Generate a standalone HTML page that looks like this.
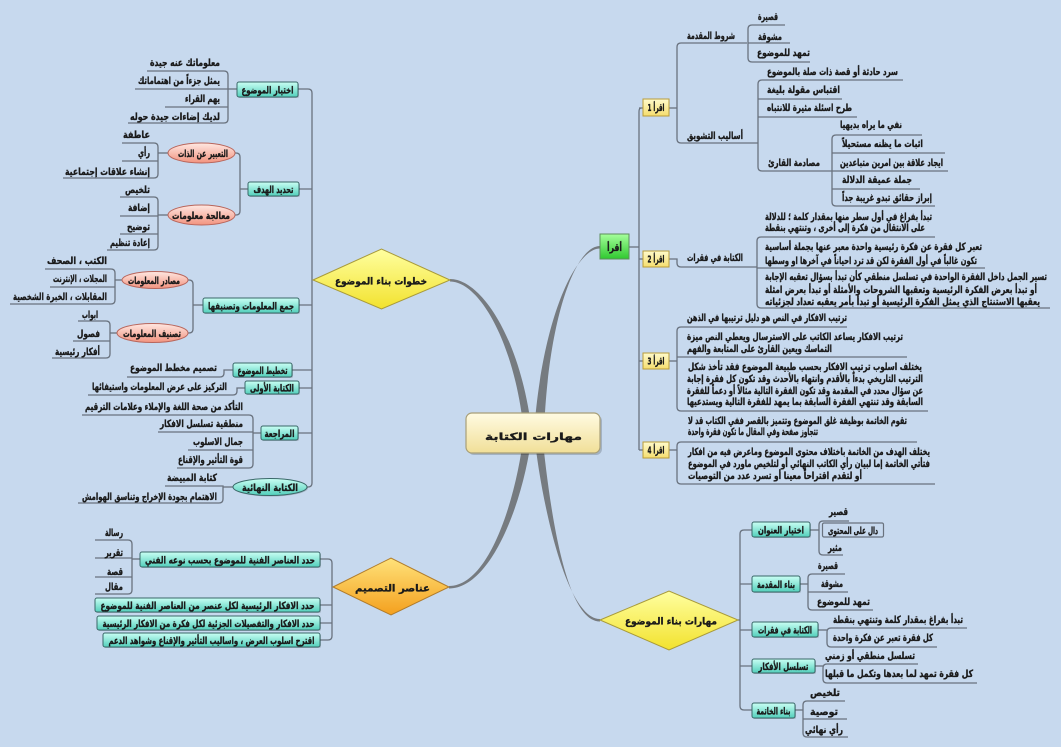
<!DOCTYPE html>
<html><head><meta charset="utf-8">
<style>
html,body{margin:0;padding:0;background:#c7d9ee;}
svg{display:block}
svg text{font-family:"DejaVu Sans","Liberation Sans",sans-serif;font-weight:bold;fill:#1a1a1a;stroke:#1a1a1a;stroke-width:.35px;font-size:10px;text-anchor:middle}
.c{fill:none;stroke:#69727e;stroke-width:1.3}
.tb{fill:url(#gTeal);stroke:#3a6868;stroke-width:1}
.yb{fill:url(#gYel);stroke:#b89c3a;stroke-width:1}
.pk{fill:url(#gPink);stroke:#b8665c;stroke-width:1}
.sh{fill:#000;opacity:.18}
</style></head><body>
<svg width="1061" height="747" viewBox="0 0 1061 747" xmlns="http://www.w3.org/2000/svg">
<defs>
<linearGradient id="gCenter" x1="0" y1="0" x2="0" y2="1"><stop offset="0" stop-color="#fffbe2"/><stop offset="1" stop-color="#f1df98"/></linearGradient>
<linearGradient id="gGreen" x1="0" y1="0" x2="0" y2="1"><stop offset="0" stop-color="#a6ff9c"/><stop offset="1" stop-color="#2fc82f"/></linearGradient>
<linearGradient id="gYel" x1="0" y1="0" x2="0" y2="1"><stop offset="0" stop-color="#fffbcc"/><stop offset="1" stop-color="#f5dd6e"/></linearGradient>
<linearGradient id="gDia" x1="0" y1="0" x2="0" y2="1"><stop offset="0" stop-color="#ffffa0"/><stop offset="1" stop-color="#f2e22e"/></linearGradient>
<linearGradient id="gOr" x1="0" y1="0" x2="0" y2="1"><stop offset="0" stop-color="#ffe27a"/><stop offset="1" stop-color="#f4a01e"/></linearGradient>
<linearGradient id="gTeal" x1="0" y1="0" x2="0" y2="1"><stop offset="0" stop-color="#cafff4"/><stop offset="1" stop-color="#52cfbb"/></linearGradient>
<linearGradient id="gPink" x1="0" y1="0" x2="0" y2="1"><stop offset="0" stop-color="#ffe8e2"/><stop offset="1" stop-color="#f2937f"/></linearGradient>
</defs>

<!-- main curves -->
<g fill="#767b80">
<path d="M600,246 C575,246 548,320 544,433 L534,433 C542,320 575,248.5 600,248.5 Z"/>
<path d="M450,279 C481,279 521,338 532,433 L524,433 C515,342 479,281.5 450,281.5 Z"/>
<path d="M449,586 C489,586 516,500 524,433 L532,433 C524,502 491,588.5 449,588.5 Z"/>
<path d="M600,619 C566,619 541,500 534,433 L542,433 C549,500 564,621.5 600,621.5 Z"/>
</g>

<!-- ===== RIGHT TOP CONNECTORS ===== -->
<g class="c">
<path d="M629,247 H639"/>
<path d="M641,108 Q639,108 639,112 V450"/>
<path d="M639,108 H643 M639,259 H643 M639,361 H643 M639,450 H643"/>
<path d="M669,108 H677"/>
<path d="M747,43 H681 Q677,43 677,47 V139 Q677,143 681,143 H758"/>
<path d="M785,25 H752 Q748,25 748,29 V58 Q748,62 752,62 H810"/>
<path d="M748,43 H790"/>
<path d="M903,80 H762 Q758,80 758,84 V167 Q758,171 762,171 H832"/>
<path d="M758,99 H842 M758,117 H857"/>
<path d="M922,135 H836 Q832,135 832,139 V202 Q832,206 836,206 H935"/>
<path d="M832,153 H945 M832,171 H948 M832,189 H920"/>
<path d="M669,259 H677 V263 Q677,267 681,267 H757"/>
<path d="M935,237 H761 Q757,237 757,241 V304 Q757,308 761,308 H1050"/>
<path d="M757,268 H985"/>
<path d="M669,361 H677"/>
<path d="M847,327 H681 Q677,327 677,331 V407 Q677,411 681,411 H928"/>
<path d="M677,357 H907"/>
<path d="M669,450 H677"/>
<path d="M917,442 H681 Q677,442 677,446 V480 Q677,484 681,484 H935"/>
</g>

<!-- ===== RIGHT BOTTOM CONNECTORS ===== -->
<g class="c">
<path d="M738,620 H740"/>
<path d="M752,530 H744 Q740,530 740,534 V706 Q740,710 744,710 H752"/>
<path d="M740,584 H752 M740,630 H752 M740,666 H752"/>
<path d="M810,530 H819"/>
<path d="M849,521 H823 Q819,521 819,525 V551 Q819,555 823,555 H843"/>
<path d="M800,584 H808"/>
<path d="M845,574 H812 Q808,574 808,578 V606 Q808,610 812,610 H873"/>
<path d="M808,592 H848"/>
<path d="M818,630 H827"/>
<path d="M967,628 H831 Q827,628 827,632 V643 Q827,647 831,647 H937"/>
<path d="M815,666 H823"/>
<path d="M918,664 H827 Q823,664 823,668 V679 Q823,683 827,683 H977"/>
<path d="M795,710 H803"/>
<path d="M845,701 H807 Q803,701 803,705 V733 Q803,737 807,737 H848"/>
<path d="M803,719 H847"/>
</g>
<rect x="822.5" y="523" width="61" height="14" rx="1.5" fill="none" stroke="#69727e" stroke-width="1.2"/>

<!-- ===== LEFT CONNECTORS ===== -->
<g class="c">
<path d="M298,89 H308 Q312,89 312,93 V483 Q312,487 308,487 H307"/>
<path d="M299,189 H312 M299,305 H312 M292,370 H312 M299,388 H312 M298,433 H312"/>
<path d="M237,89 H228"/>
<path d="M147,71 H224 Q228,71 228,75 V119 Q228,123 224,123 H128"/>
<path d="M228,89 H135 M228,107 H165"/>
<path d="M248,189 H240"/>
<path d="M235,153 H236 Q240,153 240,157 V211 Q240,215 236,215 H235"/>
<path d="M168,153 H158"/>
<path d="M122,143 H154 Q158,143 158,147 V174 Q158,178 154,178 H63"/>
<path d="M158,161 H122"/>
<path d="M168,215 H158"/>
<path d="M120,197 H154 Q158,197 158,201 V246 Q158,250 154,250 H107"/>
<path d="M158,216 H120 M158,234 H120"/>
<path d="M203,305 H193"/>
<path d="M188,280 H189 Q193,280 193,284 V329 Q193,333 189,333 H188"/>
<path d="M122,280 H115"/>
<path d="M45,269 H111 Q115,269 115,273 V300 Q115,304 111,304 H10"/>
<path d="M115,287 H50"/>
<path d="M117,333 H110"/>
<path d="M78,321 H106 Q110,321 110,325 V354 Q110,358 106,358 H52"/>
<path d="M110,341 H73"/>
<path d="M233,370 H224 V373 Q224,377 220,377 H127"/>
<path d="M245,388 H237 V391 Q237,395 233,395 H88"/>
<path d="M261,433 H253"/>
<path d="M82,415 H249 Q253,415 253,419 V464 Q253,468 249,468 H177"/>
<path d="M253,432 H158 M253,450 H188"/>
<path d="M233,487 H223"/>
<path d="M165,486 H223 V499 Q223,503 219,503 H78"/>
<path d="M320,559 H328 Q332,559 332,563 V636 Q332,640 328,640 H320"/>
<path d="M320,605 H332 M320,623 H332"/>
<path d="M140,559 H132"/>
<path d="M95,540 H128 Q132,540 132,544 V590 Q132,594 128,594 H95"/>
<path d="M132,558 H95 M132,577 H95"/>
</g>

<!-- ===== NODES ===== -->
<rect x="468" y="415" width="134" height="40" rx="6" class="sh"/>
<rect x="466" y="413" width="134" height="40" rx="6" fill="url(#gCenter)" stroke="#a89f78" stroke-width="1.2"/>
<text x="533.5" y="440" font-size="19" textLength="97" lengthAdjust="spacingAndGlyphs">مهارات الكتابة</text>

<rect x="600" y="234" width="29" height="25" fill="url(#gGreen)" stroke="#5c8f5c" stroke-width="1"/>
<text x="614.5" y="251" font-size="11" textLength="15" lengthAdjust="spacingAndGlyphs">أقرأ</text>

<rect x="643" y="99" width="26" height="17" class="yb"/>
<text x="656" y="111" font-size="8.5" textLength="17" lengthAdjust="spacingAndGlyphs">اقرأ 1</text>
<rect x="643" y="251" width="26" height="16" class="yb"/>
<text x="656" y="262.5" font-size="8.5" textLength="17" lengthAdjust="spacingAndGlyphs">اقرأ 2</text>
<rect x="643" y="353" width="26" height="16" class="yb"/>
<text x="656" y="364.5" font-size="8.5" textLength="17" lengthAdjust="spacingAndGlyphs">اقرأ 3</text>
<rect x="643" y="442" width="26" height="16" class="yb"/>
<text x="656" y="453.5" font-size="8.5" textLength="17" lengthAdjust="spacingAndGlyphs">اقرأ 4</text>

<polygon points="313,280 381.5,249 450,280 381.5,309" fill="url(#gDia)" stroke="#a89a3a" stroke-width="1"/>
<text x="381" y="284.5" font-size="12.5" textLength="92" lengthAdjust="spacingAndGlyphs">خطوات بناء الموضوع</text>
<polygon points="600,620 669,591 738,620 669,650" fill="url(#gDia)" stroke="#a89a3a" stroke-width="1"/>
<text x="671" y="624.5" font-size="12.5" textLength="92" lengthAdjust="spacingAndGlyphs">مهارات بناء الموضوع</text>
<polygon points="333,587 391,558 449,587 391,615" fill="url(#gOr)" stroke="#b07c2c" stroke-width="1"/>
<text x="392.5" y="591.5" font-size="12.5" textLength="75" lengthAdjust="spacingAndGlyphs">عناصر التصميم</text>

<g>
<text x="711" y="39" textLength="48" lengthAdjust="spacingAndGlyphs">شروط المقدمة</text>
<text x="768" y="20" textLength="20" lengthAdjust="spacingAndGlyphs">قصيرة</text>
<text x="770" y="40" textLength="24" lengthAdjust="spacingAndGlyphs">مشوقة</text>
<text x="783.5" y="56" textLength="53" lengthAdjust="spacingAndGlyphs">تمهد للموضوع</text>
<text x="715" y="139" textLength="56" lengthAdjust="spacingAndGlyphs">أساليب التشويق</text>
<text x="832.5" y="75" textLength="131" lengthAdjust="spacingAndGlyphs">سرد حادثة أو قصة ذات صلة بالموضوع</text>
<text x="803.5" y="93" textLength="73" lengthAdjust="spacingAndGlyphs">اقتباس مقولة بليغة</text>
<text x="809.5" y="111" textLength="85" lengthAdjust="spacingAndGlyphs">طرح اسئلة مثيرة للانتباه</text>
<text x="794" y="166" textLength="52" lengthAdjust="spacingAndGlyphs">مصادمة القارئ</text>
<text x="871" y="128" textLength="62" lengthAdjust="spacingAndGlyphs">نفي ما يراه بديهيا</text>
<text x="882.5" y="147" textLength="81" lengthAdjust="spacingAndGlyphs">اثبات ما يظنه مستحيلاً</text>
<text x="891.5" y="166" textLength="103" lengthAdjust="spacingAndGlyphs">ايجاد علاقة بين امرين متباعدين</text>
<text x="877" y="183" textLength="70" lengthAdjust="spacingAndGlyphs">جملة عميقة الدلالة</text>
<text x="887" y="201" textLength="90" lengthAdjust="spacingAndGlyphs">إبراز حقائق تبدو غريبة جداً</text>

<text x="715" y="261" textLength="56" lengthAdjust="spacingAndGlyphs">الكتابة في فقرات</text>
<text x="848.5" y="220" textLength="167" lengthAdjust="spacingAndGlyphs">تبدأ بفراغ في أول سطر منها بمقدار كلمة ؛ للدلالة</text>
<text x="845" y="231" textLength="160" lengthAdjust="spacingAndGlyphs">على الانتقال من فكرة إلى أخرى ، وتنتهي بنقطة</text>
<text x="873.5" y="250" textLength="217" lengthAdjust="spacingAndGlyphs">تعبر كل فقرة عن فكرة رئيسية واحدة معبر عنها بجملة أساسية</text>
<text x="871" y="264" textLength="212" lengthAdjust="spacingAndGlyphs">تكون غالباً في أول الفقرة لكن قد ترد احياناً في آخرها او وسطها</text>
<text x="906" y="280" textLength="282" lengthAdjust="spacingAndGlyphs">تسير الجمل داخل الفقرة الواحدة في تسلسل منطقي كأن تبدأ بسؤال تعقبه الإجابة</text>
<text x="901" y="293" textLength="272" lengthAdjust="spacingAndGlyphs">أو تبدأ بعرض الفكرة الرئيسية وتعقبها الشروحات والأمثلة أو تبدأ بعرض امثلة</text>
<text x="902.5" y="305" textLength="275" lengthAdjust="spacingAndGlyphs">يعقبها الاستنتاج الذي يمثل الفكرة الرئيسية أو تبدأ بأمر يعقبه تعداد لجزئياته</text>

<text x="767" y="321" textLength="160" lengthAdjust="spacingAndGlyphs">ترتيب الافكار في النص هو دليل ترتيبها في الذهن</text>
<text x="795" y="340" textLength="216" lengthAdjust="spacingAndGlyphs">ترتيب الافكار يساعد الكاتب على الاسترسال ويعطي النص ميزة</text>
<text x="759.5" y="352" textLength="145" lengthAdjust="spacingAndGlyphs">التماسك ويعين القارئ على المتابعة والفهم</text>
<text x="805" y="370" textLength="234" lengthAdjust="spacingAndGlyphs">يختلف اسلوب ترتيب الافكار بحسب طبيعة الموضوع فقد تأخذ شكل</text>
<text x="805" y="382" textLength="236" lengthAdjust="spacingAndGlyphs">الترتيب التاريخي بدءاً بالأقدم وانتهاء بالأحدث وقد تكون كل فقرة إجابة</text>
<text x="805" y="394" textLength="236" lengthAdjust="spacingAndGlyphs">عن سؤال محدد في المقدمة وقد تكون الفقرة التالية مثالاً أو دعماً للفقرة</text>
<text x="805" y="405" textLength="236" lengthAdjust="spacingAndGlyphs">السابقة وقد تنتهي الفقرة السابقة بما يمهد للفقرة التالية ويستدعيها</text>

<text x="797.5" y="424" textLength="219" lengthAdjust="spacingAndGlyphs">تقوم الخاتمة بوظيفة غلق الموضوع وتتميز بالقصر ففي الكتاب قد لا</text>
<text x="753" y="435" textLength="130" lengthAdjust="spacingAndGlyphs">تتجاوز صفحة وفي المقال ما تكون فقرة واحدة</text>
<text x="809" y="455" textLength="242" lengthAdjust="spacingAndGlyphs">يختلف الهدف من الخاتمة باختلاف محتوى الموضوع وماعرض فيه من افكار</text>
<text x="809" y="467" textLength="242" lengthAdjust="spacingAndGlyphs">فتأتي الخاتمة إما لبيان رأي الكاتب النهائي أو لتلخيص ماورد في الموضوع</text>
<text x="775" y="479" textLength="174" lengthAdjust="spacingAndGlyphs">أو لتقدم اقتراحاً معينا أو تسرد عدد من التوصيات</text>
</g>

<g>
<rect x="753" y="523" width="58" height="15" rx="2" class="sh"/>
<rect x="752" y="522" width="58" height="15" rx="2" class="tb"/>
<text x="781" y="533.5" textLength="46" lengthAdjust="spacingAndGlyphs">اختيار العنوان</text>
<rect x="753" y="577" width="48" height="16" rx="2" class="sh"/>
<rect x="752" y="576" width="48" height="16" rx="2" class="tb"/>
<text x="776" y="588" textLength="38" lengthAdjust="spacingAndGlyphs">بناء المقدمة</text>
<rect x="753" y="623" width="66" height="15" rx="2" class="sh"/>
<rect x="752" y="622" width="66" height="15" rx="2" class="tb"/>
<text x="785" y="633.5" textLength="54" lengthAdjust="spacingAndGlyphs">الكتابة في فقرات</text>
<rect x="753" y="660" width="63" height="14" rx="2" class="sh"/>
<rect x="752" y="659" width="63" height="14" rx="2" class="tb"/>
<text x="783.5" y="670" textLength="50" lengthAdjust="spacingAndGlyphs">تسلسل الأفكار</text>
<rect x="753" y="704" width="43" height="15" rx="2" class="sh"/>
<rect x="752" y="703" width="43" height="15" rx="2" class="tb"/>
<text x="773.5" y="714.5" textLength="34" lengthAdjust="spacingAndGlyphs">بناء الخاتمة</text>

<text x="838.5" y="515" textLength="19" lengthAdjust="spacingAndGlyphs">قصير</text>
<text x="853" y="534" textLength="50" lengthAdjust="spacingAndGlyphs">دال على المحتوى</text>
<text x="835" y="551" textLength="14" lengthAdjust="spacingAndGlyphs">مثير</text>
<text x="828" y="569" textLength="20" lengthAdjust="spacingAndGlyphs">قصيرة</text>
<text x="832" y="587" textLength="22" lengthAdjust="spacingAndGlyphs">مشوقة</text>
<text x="843.5" y="605" textLength="53" lengthAdjust="spacingAndGlyphs">تمهد للموضوع</text>
<text x="898" y="623" textLength="130" lengthAdjust="spacingAndGlyphs">تبدأ بفراغ بمقدار كلمة وتنتهي بنقطة</text>
<text x="883" y="641" textLength="100" lengthAdjust="spacingAndGlyphs">كل فقرة تعبر عن فكرة واحدة</text>
<text x="870" y="659" textLength="90" lengthAdjust="spacingAndGlyphs">تسلسل منطقي أو زمني</text>
<text x="899" y="677" textLength="148" lengthAdjust="spacingAndGlyphs">كل فقرة تمهد لما بعدها وتكمل ما قبلها</text>
<text x="825" y="696" textLength="30" lengthAdjust="spacingAndGlyphs">تلخيص</text>
<text x="824" y="715" textLength="28" lengthAdjust="spacingAndGlyphs">توصية</text>
<text x="824" y="733" textLength="38" lengthAdjust="spacingAndGlyphs">رأي نهائي</text>
</g>

<g>
<rect x="238" y="83" width="61" height="15" rx="2" class="sh"/>
<rect x="237" y="82" width="61" height="15" rx="2" class="tb"/>
<text x="267.5" y="93.5" textLength="52" lengthAdjust="spacingAndGlyphs">اختيار الموضوع</text>
<rect x="249" y="183" width="51" height="14" rx="2" class="sh"/>
<rect x="248" y="182" width="51" height="14" rx="2" class="tb"/>
<text x="273.5" y="193" textLength="40" lengthAdjust="spacingAndGlyphs">تحديد الهدف</text>
<rect x="204" y="299" width="96" height="15" rx="2" class="sh"/>
<rect x="203" y="298" width="96" height="15" rx="2" class="tb"/>
<text x="251" y="309.5" textLength="86" lengthAdjust="spacingAndGlyphs">جمع المعلومات وتصنيفها</text>
<rect x="234" y="364" width="59" height="14" rx="2" class="sh"/>
<rect x="233" y="363" width="59" height="14" rx="2" class="tb"/>
<text x="262.5" y="374" textLength="50" lengthAdjust="spacingAndGlyphs">تخطيط الموضوع</text>
<rect x="246" y="382" width="54" height="13" rx="2" class="sh"/>
<rect x="245" y="381" width="54" height="13" rx="2" class="tb"/>
<text x="272" y="391.5" textLength="44" lengthAdjust="spacingAndGlyphs">الكتابة الأولى</text>
<rect x="262" y="427" width="37" height="14" rx="2" class="sh"/>
<rect x="261" y="426" width="37" height="14" rx="2" class="tb"/>
<text x="279.5" y="437" textLength="30" lengthAdjust="spacingAndGlyphs">المراجعة</text>
<ellipse cx="271" cy="488" rx="37" ry="8.5" class="sh"/>
<ellipse cx="270" cy="487" rx="37" ry="8.5" class="tb"/>
<text x="270" y="491" textLength="56" lengthAdjust="spacingAndGlyphs">الكتابة النهائية</text>

<ellipse cx="201.5" cy="153" rx="33.5" ry="10" class="pk"/>
<text x="203" y="157" textLength="50" lengthAdjust="spacingAndGlyphs">التعبير عن الذات</text>
<ellipse cx="201.5" cy="215" rx="33.5" ry="10" class="pk"/>
<text x="201" y="219" textLength="58" lengthAdjust="spacingAndGlyphs">معالجة معلومات</text>
<ellipse cx="155" cy="280" rx="33" ry="8.5" class="pk"/>
<text x="154" y="284" textLength="52" lengthAdjust="spacingAndGlyphs">مصادر المعلومات</text>
<ellipse cx="152.5" cy="333" rx="35.5" ry="9.5" class="pk"/>
<text x="152" y="337" textLength="58" lengthAdjust="spacingAndGlyphs">تصنيف المعلومات</text>

<text x="185" y="66" textLength="70" lengthAdjust="spacingAndGlyphs">معلوماتك عنه جيدة</text>
<text x="179" y="84" textLength="82" lengthAdjust="spacingAndGlyphs">يمثل جزءاً من اهتماماتك</text>
<text x="202.5" y="102" textLength="35" lengthAdjust="spacingAndGlyphs">يهم القراء</text>
<text x="175" y="120" textLength="90" lengthAdjust="spacingAndGlyphs">لديك إضاءات جيدة حوله</text>
<text x="136.5" y="138" textLength="27" lengthAdjust="spacingAndGlyphs">عاطفة</text>
<text x="144" y="156" textLength="12" lengthAdjust="spacingAndGlyphs">رأي</text>
<text x="107.5" y="175" textLength="85" lengthAdjust="spacingAndGlyphs">إنشاء علاقات إجتماعية</text>
<text x="137.5" y="193" textLength="25" lengthAdjust="spacingAndGlyphs">تلخيص</text>
<text x="139" y="211" textLength="22" lengthAdjust="spacingAndGlyphs">إضافة</text>
<text x="138.5" y="230" textLength="23" lengthAdjust="spacingAndGlyphs">توضيح</text>
<text x="130" y="246" textLength="40" lengthAdjust="spacingAndGlyphs">إعادة تنظيم</text>
<text x="77" y="264" textLength="60" lengthAdjust="spacingAndGlyphs">الكتب ، الصحف</text>
<text x="80" y="282" textLength="54" lengthAdjust="spacingAndGlyphs">المجلات ، الإنترنت</text>
<text x="60" y="300" textLength="94" lengthAdjust="spacingAndGlyphs">المقابلات ، الخبرة الشخصية</text>
<text x="90" y="318" textLength="16" lengthAdjust="spacingAndGlyphs">ابواب</text>
<text x="88.5" y="337" textLength="23" lengthAdjust="spacingAndGlyphs">فصول</text>
<text x="77.5" y="355" textLength="45" lengthAdjust="spacingAndGlyphs">أفكار رئيسية</text>
<text x="173.5" y="371" textLength="87" lengthAdjust="spacingAndGlyphs">تصميم مخطط الموضوع</text>
<text x="159.5" y="390" textLength="135" lengthAdjust="spacingAndGlyphs">التركيز على عرض المعلومات واستيفائها</text>
<text x="164" y="410" textLength="158" lengthAdjust="spacingAndGlyphs">التأكد من صحة اللغة والإملاء وعلامات الترقيم</text>
<text x="201.5" y="427" textLength="83" lengthAdjust="spacingAndGlyphs">منطقية تسلسل الافكار</text>
<text x="218" y="445" textLength="50" lengthAdjust="spacingAndGlyphs">جمال الاسلوب</text>
<text x="210.5" y="463" textLength="65" lengthAdjust="spacingAndGlyphs">قوة التأثير والإقناع</text>
<text x="192" y="481" textLength="50" lengthAdjust="spacingAndGlyphs">كتابة المبيضة</text>
<text x="149.5" y="500" textLength="135" lengthAdjust="spacingAndGlyphs">الاهتمام بجودة الإخراج وتناسق الهوامش</text>
</g>

<g>
<rect x="141" y="553" width="180" height="15" rx="2" class="sh"/>
<rect x="140" y="552" width="180" height="15" rx="2" class="tb"/>
<text x="230" y="563.5" textLength="170" lengthAdjust="spacingAndGlyphs">حدد العناصر الفنية للموضوع بحسب نوعه الفني</text>
<rect x="96" y="599" width="225" height="14" rx="2" class="sh"/>
<rect x="95" y="598" width="225" height="14" rx="2" class="tb"/>
<text x="207.5" y="609" textLength="214" lengthAdjust="spacingAndGlyphs">حدد الافكار الرئيسية لكل عنصر من العناصر الفنية للموضوع</text>
<rect x="98" y="617" width="223" height="14" rx="2" class="sh"/>
<rect x="97" y="616" width="223" height="14" rx="2" class="tb"/>
<text x="208.5" y="627" textLength="212" lengthAdjust="spacingAndGlyphs">حدد الافكار والتفصيلات الجزئية لكل فكرة من الافكار الرئيسية</text>
<rect x="104" y="634" width="217" height="14" rx="2" class="sh"/>
<rect x="103" y="633" width="217" height="14" rx="2" class="tb"/>
<text x="211.5" y="644" textLength="206" lengthAdjust="spacingAndGlyphs">اقترح اسلوب العرض ، واساليب التأثير والإقناع وشواهد الدعم</text>

<text x="114" y="536" textLength="18" lengthAdjust="spacingAndGlyphs">رسالة</text>
<text x="114" y="556" textLength="18" lengthAdjust="spacingAndGlyphs">تقرير</text>
<text x="115" y="575" textLength="16" lengthAdjust="spacingAndGlyphs">قصة</text>
<text x="114" y="590" textLength="18" lengthAdjust="spacingAndGlyphs">مقال</text>
</g>
</svg>
</body></html>
